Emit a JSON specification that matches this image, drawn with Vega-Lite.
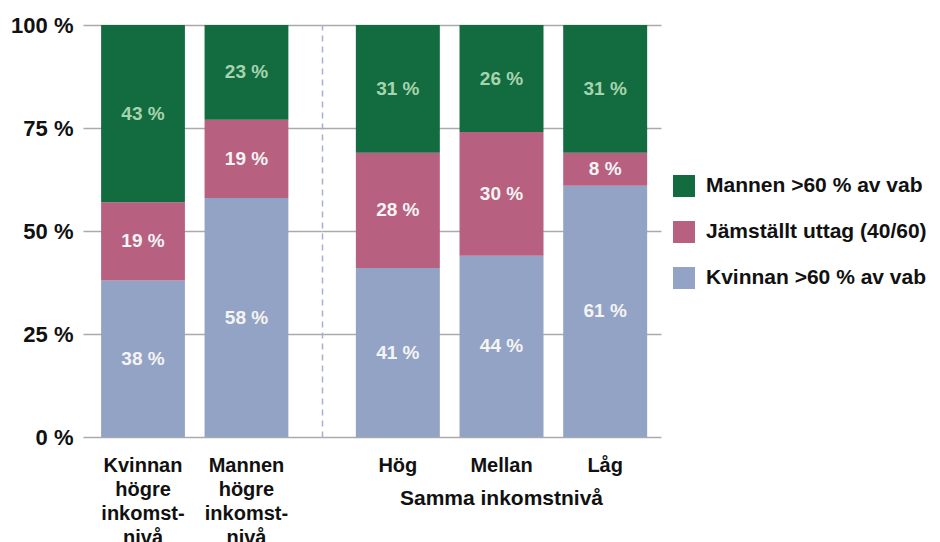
{
  "$schema": "https://vega.github.io/schema/vega-lite/v6.json",
  "background": "white",
  "padding": {"left": 10, "top": 14, "right": 0, "bottom": 0},
  "config": {
    "font": "Liberation Sans",
    "view": {"stroke": null},
    "axis": {
      "labelFont": "Liberation Sans",
      "labelFontWeight": "bold",
      "labelFontSize": 20,
      "labelColor": "#111111",
      "titleFont": "Liberation Sans",
      "titleFontWeight": "bold",
      "titleFontSize": 21,
      "titleColor": "#111111",
      "domain": false,
      "ticks": false,
      "gridColor": "#aaaaaa",
      "gridWidth": 1.5
    }
  },
  "data": {
    "values": [
      {"grupp": "olika", "kategori": "Kvinnan högre inkomst-nivå", "serie": "Kvinnan >60 % av vab", "andel": 38},
      {"grupp": "olika", "kategori": "Kvinnan högre inkomst-nivå", "serie": "Jämställt uttag (40/60)", "andel": 19},
      {"grupp": "olika", "kategori": "Kvinnan högre inkomst-nivå", "serie": "Mannen >60 % av vab", "andel": 43},
      {"grupp": "olika", "kategori": "Mannen högre inkomst-nivå", "serie": "Kvinnan >60 % av vab", "andel": 58},
      {"grupp": "olika", "kategori": "Mannen högre inkomst-nivå", "serie": "Jämställt uttag (40/60)", "andel": 19},
      {"grupp": "olika", "kategori": "Mannen högre inkomst-nivå", "serie": "Mannen >60 % av vab", "andel": 23},
      {"grupp": "samma", "kategori": "Hög", "serie": "Kvinnan >60 % av vab", "andel": 41},
      {"grupp": "samma", "kategori": "Hög", "serie": "Jämställt uttag (40/60)", "andel": 28},
      {"grupp": "samma", "kategori": "Hög", "serie": "Mannen >60 % av vab", "andel": 31},
      {"grupp": "samma", "kategori": "Mellan", "serie": "Kvinnan >60 % av vab", "andel": 44},
      {"grupp": "samma", "kategori": "Mellan", "serie": "Jämställt uttag (40/60)", "andel": 30},
      {"grupp": "samma", "kategori": "Mellan", "serie": "Mannen >60 % av vab", "andel": 26},
      {"grupp": "samma", "kategori": "Låg", "serie": "Kvinnan >60 % av vab", "andel": 61},
      {"grupp": "samma", "kategori": "Låg", "serie": "Jämställt uttag (40/60)", "andel": 8},
      {"grupp": "samma", "kategori": "Låg", "serie": "Mannen >60 % av vab", "andel": 31}
    ]
  },
  "transform": [
    {"calculate": "indexof(['Kvinnan >60 % av vab', 'Jämställt uttag (40/60)', 'Mannen >60 % av vab'], datum.serie)", "as": "ordning"}
  ],
  "spacing": 0,
  "hconcat": [
    {
      "width": 239,
      "height": 412,
      "transform": [{"filter": {"field": "grupp", "equal": "olika"}}],
      "encoding": {
        "x": {
          "field": "kategori", "type": "nominal",
          "scale": {"domain": ["Kvinnan högre inkomst-nivå", "Mannen högre inkomst-nivå"], "paddingInner": 0.19, "paddingOuter": 0.25, "align": 0.35},
          "axis": {"title": null, "labelAngle": 0, "labelExpr": "split(replace(datum.label, '-', '- '), ' ')", "labelLineHeight": 24, "labelPadding": 18, "labelBaseline": "top"}
        },
        "y": {
          "field": "andel", "type": "quantitative", "stack": "zero",
          "scale": {"domain": [0, 100]},
          "axis": {"title": null, "values": [0, 25, 50, 75, 100], "labelExpr": "datum.value + ' %'", "labelFontSize": 22, "grid": true, "labelPadding": 10}
        },
        "order": {"field": "ordning", "sort": "ascending"}
      },
      "layer": [
        {
          "mark": {"type": "bar"},
          "encoding": {
            "color": {
              "field": "serie", "type": "nominal",
              "scale": {"domain": ["Mannen >60 % av vab", "Jämställt uttag (40/60)", "Kvinnan >60 % av vab"], "range": ["#136b40", "#b86080", "#93a3c5"]},
              "legend": {"orient": "none", "legendX": 590, "legendY": 150, "title": null, "symbolType": "square", "symbolSize": 484, "symbolStrokeWidth": 0, "symbolOpacity": 1, "labelFont": "Liberation Sans", "labelFontSize": 21, "labelFontWeight": "bold", "labelColor": "#111111", "labelOffset": 11, "labelLimit": 400, "rowPadding": 24, "padding": 0}
            }
          }
        },
        {
          "mark": {"type": "text", "font": "Liberation Sans", "fontSize": 19, "fontWeight": "bold", "text": {"expr": "datum.andel + ' %'"}},
          "encoding": {
            "y": {"field": "andel", "type": "quantitative", "stack": "zero", "bandPosition": 0.5},
            "detail": {"field": "serie"},
            "color": {"condition": {"test": "datum.serie === 'Mannen >60 % av vab'", "value": "#a6d4ae"}, "value": "#f4f4f4"}
          }
        }
      ]
    },
    {
      "width": 339,
      "height": 412,
      "transform": [{"filter": {"field": "grupp", "equal": "samma"}}],
      "encoding": {
        "x": {
          "field": "kategori", "type": "nominal",
          "scale": {"domain": ["Hög", "Mellan", "Låg"], "paddingInner": 0.19, "paddingOuter": 0.23, "align": 0.71},
          "axis": {"title": "Samma inkomstnivå", "titleX": 179, "labelAngle": 0, "labelPadding": 18, "labelBaseline": "top", "titlePadding": 12}
        },
        "y": {
          "field": "andel", "type": "quantitative", "stack": "zero",
          "scale": {"domain": [0, 100]},
          "axis": {"title": null, "values": [0, 25, 50, 75, 100], "labels": false, "grid": true, "domain": true, "domainColor": "#a7aed3", "domainDash": [6, 5], "domainWidth": 1.5}
        },
        "order": {"field": "ordning", "sort": "ascending"}
      },
      "layer": [
        {
          "mark": {"type": "bar"},
          "encoding": {
            "color": {"field": "serie", "type": "nominal"}
          }
        },
        {
          "mark": {"type": "text", "font": "Liberation Sans", "fontSize": 19, "fontWeight": "bold", "text": {"expr": "datum.andel + ' %'"}},
          "encoding": {
            "y": {"field": "andel", "type": "quantitative", "stack": "zero", "bandPosition": 0.5},
            "detail": {"field": "serie"},
            "color": {"condition": {"test": "datum.serie === 'Mannen >60 % av vab'", "value": "#a6d4ae"}, "value": "#f4f4f4"}
          }
        }
      ]
    }
  ]
}
